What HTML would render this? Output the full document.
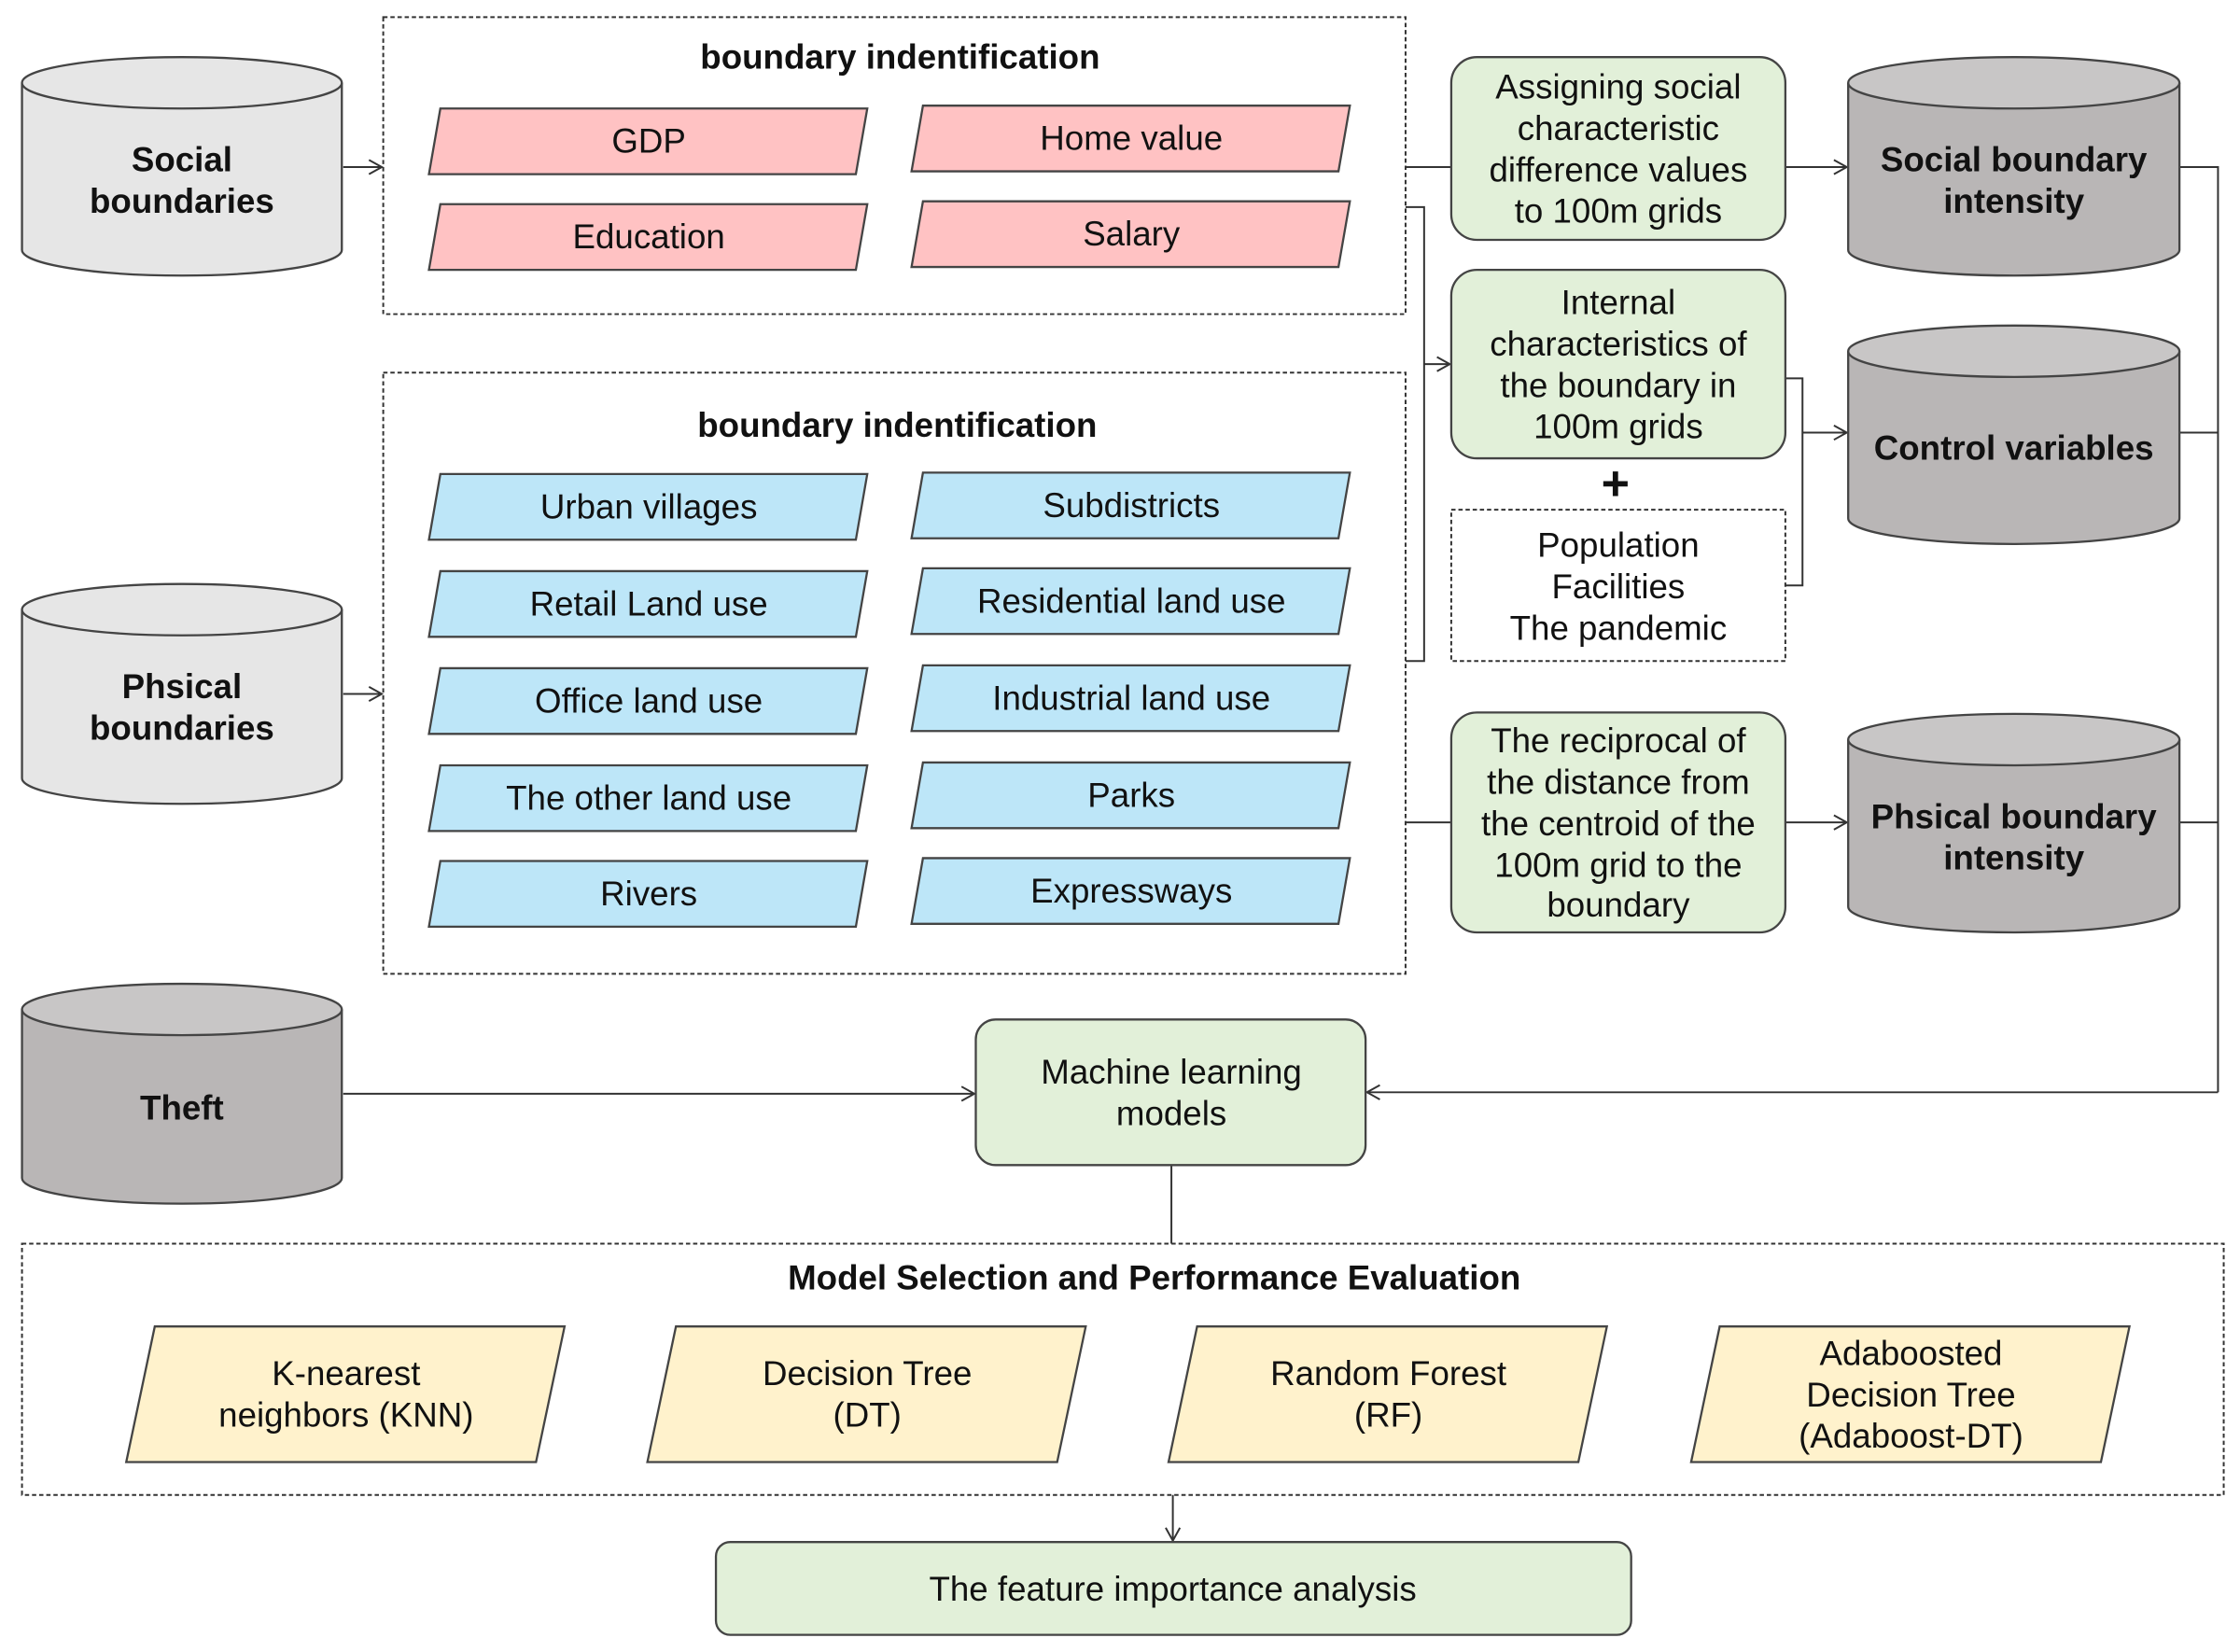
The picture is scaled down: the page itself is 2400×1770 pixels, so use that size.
<!DOCTYPE html>
<html><head><meta charset="utf-8"><style>
html,body{margin:0;padding:0;background:#fff;}
svg{display:block;}
text{font-family:"Liberation Sans",Arial,sans-serif;}
</style></head><body>
<svg width="2400" height="1770" viewBox="0 0 1568 1157" xmlns="http://www.w3.org/2000/svg">
<defs>
<marker id="a" markerWidth="12" markerHeight="12" refX="10" refY="6" orient="auto" markerUnits="userSpaceOnUse">
<path d="M1,1 L10,6 L1,11" fill="none" stroke="#333" stroke-width="1.3"/></marker>
</defs>
<rect width="1568" height="1157" fill="#fff"/>
<g stroke="#333" stroke-width="1.3" fill="none">
<line x1="240" y1="117" x2="267" y2="117" marker-end="url(#a)"/>
<line x1="240" y1="486" x2="267" y2="486" marker-end="url(#a)"/>
<line x1="984" y1="117" x2="1016" y2="117"/>
<line x1="1250" y1="117" x2="1293" y2="117" marker-end="url(#a)"/>
<polyline points="984,145 997,145 997,463 984,463"/>
<line x1="997" y1="255" x2="1015" y2="255" marker-end="url(#a)"/>
<line x1="984" y1="576" x2="1016" y2="576"/>
<line x1="1250" y1="576" x2="1293" y2="576" marker-end="url(#a)"/>
<polyline points="1250,265 1262,265 1262,410 1250,410"/>
<line x1="1262" y1="303" x2="1293" y2="303" marker-end="url(#a)"/>
<polyline points="1526,117 1553,117 1553,765"/>
<line x1="1526" y1="303" x2="1553" y2="303"/>
<line x1="1526" y1="576" x2="1553" y2="576"/>
<line x1="1553" y1="765" x2="957" y2="765" marker-end="url(#a)"/>
<line x1="240" y1="766" x2="682" y2="766" marker-end="url(#a)"/>
<line x1="820" y1="816" x2="820" y2="871"/>
<line x1="821" y1="1047" x2="821" y2="1079" marker-end="url(#a)"/>
<rect x="268" y="12" width="716" height="208" stroke-dasharray="3,2"/>
<rect x="268" y="261" width="716" height="421" stroke-dasharray="3,2"/>
<rect x="15" y="871" width="1542" height="176" stroke-dasharray="3,2"/>
<rect x="1016" y="357" width="234" height="106" stroke-dasharray="3,2"/>
</g>
<g stroke="#444" stroke-width="1.5">
<path d="M15,58 L15,175 A112,18 0 0 0 239,175 L239,58" fill="#e6e6e6"/><ellipse cx="127" cy="58" rx="112" ry="18" fill="#e6e6e6"/>
<path d="M15,427 L15,545 A112,18 0 0 0 239,545 L239,427" fill="#e6e6e6"/><ellipse cx="127" cy="427" rx="112" ry="18" fill="#e6e6e6"/>
<path d="M15,707 L15,825 A112,18 0 0 0 239,825 L239,707" fill="#b9b6b6"/><ellipse cx="127" cy="707" rx="112" ry="18" fill="#c8c6c6"/>
<path d="M1294,58 L1294,175 A116,18 0 0 0 1526,175 L1526,58" fill="#b9b6b6"/><ellipse cx="1410" cy="58" rx="116" ry="18" fill="#c8c6c6"/>
<path d="M1294,246 L1294,363 A116,18 0 0 0 1526,363 L1526,246" fill="#b9b6b6"/><ellipse cx="1410" cy="246" rx="116" ry="18" fill="#c8c6c6"/>
<path d="M1294,518 L1294,635 A116,18 0 0 0 1526,635 L1526,518" fill="#b9b6b6"/><ellipse cx="1410" cy="518" rx="116" ry="18" fill="#c8c6c6"/>
</g>
<g font-size="24" font-weight="bold" text-anchor="middle" fill="#111">
<text x="127" y="120">Social</text><text x="127" y="149">boundaries</text>
<text x="127" y="489">Phsical</text><text x="127" y="518">boundaries</text>
<text x="127" y="784">Theft</text>
<text x="1410" y="120">Social boundary</text><text x="1410" y="149">intensity</text>
<text x="1410" y="322">Control variables</text>
<text x="1410" y="580">Phsical boundary</text><text x="1410" y="609">intensity</text>
<text x="630" y="48">boundary indentification</text>
<text x="628" y="306">boundary indentification</text>
<text x="808" y="903">Model Selection and Performance Evaluation</text>
<text x="1131" y="350" font-size="34" font-weight="900">+</text>
</g>
<g stroke="#444" stroke-width="1.5">
<polygon points="308,76 607,76 599,122 300,122" fill="#ffc2c3"/>
<polygon points="646,74 945,74 937,120 638,120" fill="#ffc2c3"/>
<polygon points="308,143 607,143 599,189 300,189" fill="#ffc2c3"/>
<polygon points="646,141 945,141 937,187 638,187" fill="#ffc2c3"/>
<polygon points="308,332 607,332 599,378 300,378" fill="#bde6f8"/>
<polygon points="646,331 945,331 937,377 638,377" fill="#bde6f8"/>
<polygon points="308,400 607,400 599,446 300,446" fill="#bde6f8"/>
<polygon points="646,398 945,398 937,444 638,444" fill="#bde6f8"/>
<polygon points="308,468 607,468 599,514 300,514" fill="#bde6f8"/>
<polygon points="646,466 945,466 937,512 638,512" fill="#bde6f8"/>
<polygon points="308,536 607,536 599,582 300,582" fill="#bde6f8"/>
<polygon points="646,534 945,534 937,580 638,580" fill="#bde6f8"/>
<polygon points="308,603 607,603 599,649 300,649" fill="#bde6f8"/>
<polygon points="646,601 945,601 937,647 638,647" fill="#bde6f8"/>
<polygon points="108,929 395,929 375,1024 88,1024" fill="#fff2cc"/>
<polygon points="473,929 760,929 740,1024 453,1024" fill="#fff2cc"/>
<polygon points="838,929 1125,929 1105,1024 818,1024" fill="#fff2cc"/>
<polygon points="1204,929 1491,929 1471,1024 1184,1024" fill="#fff2cc"/>
<rect x="1016" y="40" width="234" height="128" rx="18" fill="#e2f0d9"/>
<rect x="1016" y="189" width="234" height="132" rx="18" fill="#e2f0d9"/>
<rect x="1016" y="499" width="234" height="154" rx="18" fill="#e2f0d9"/>
<rect x="683" y="714" width="273" height="102" rx="14" fill="#e2f0d9"/>
<rect x="501" y="1080" width="641" height="65" rx="10" fill="#e2f0d9"/>
</g>
<g font-size="24" text-anchor="middle" fill="#111">
<text x="454" y="107">GDP</text><text x="792" y="105">Home value</text>
<text x="454" y="174">Education</text><text x="792" y="172">Salary</text>
<text x="454" y="363">Urban villages</text><text x="792" y="362">Subdistricts</text>
<text x="454" y="431">Retail Land use</text><text x="792" y="429">Residential land use</text>
<text x="454" y="499">Office land use</text><text x="792" y="497">Industrial land use</text>
<text x="454" y="567">The other land use</text><text x="792" y="565">Parks</text>
<text x="454" y="634">Rivers</text><text x="792" y="632">Expressways</text>
<text x="1133" y="69">Assigning social</text><text x="1133" y="98">characteristic</text><text x="1133" y="127">difference values</text><text x="1133" y="156">to 100m grids</text>
<text x="1133" y="220">Internal</text><text x="1133" y="249">characteristics of</text><text x="1133" y="278">the boundary in</text><text x="1133" y="307">100m grids</text>
<text x="1133" y="390">Population</text><text x="1133" y="419">Facilities</text><text x="1133" y="448">The pandemic</text>
<text x="1133" y="527">The reciprocal of</text><text x="1133" y="556">the distance from</text><text x="1133" y="585">the centroid of the</text><text x="1133" y="614">100m grid to the</text><text x="1133" y="642">boundary</text>
<text x="820" y="759">Machine learning</text><text x="820" y="788">models</text>
<text x="242" y="970">K-nearest</text><text x="242" y="999">neighbors (KNN)</text>
<text x="607" y="970">Decision Tree</text><text x="607" y="999">(DT)</text>
<text x="972" y="970">Random Forest</text><text x="972" y="999">(RF)</text>
<text x="1338" y="956">Adaboosted</text><text x="1338" y="985">Decision Tree</text><text x="1338" y="1014">(Adaboost-DT)</text>
<text x="821" y="1121">The feature importance analysis</text>
</g>
</svg>
</body></html>
